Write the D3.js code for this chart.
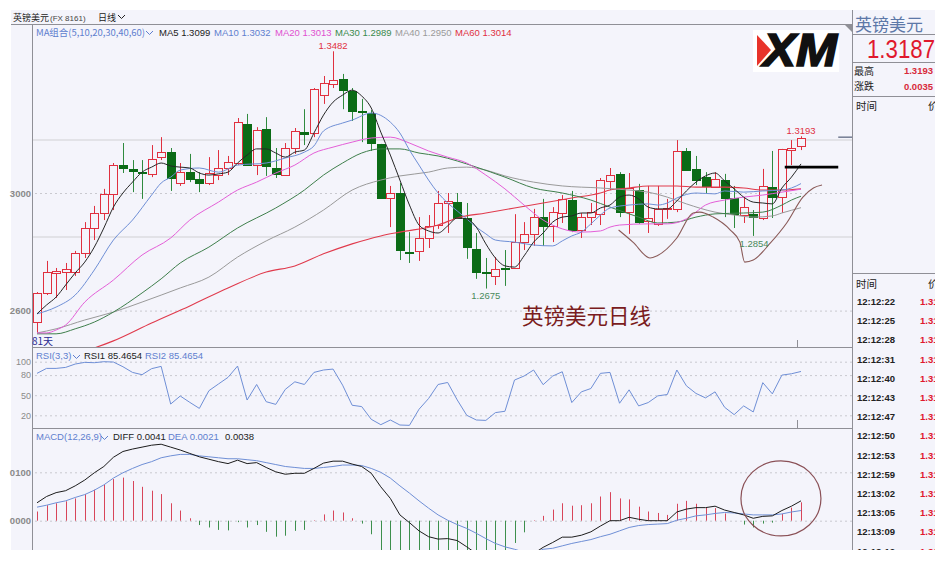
<!DOCTYPE html>
<html>
<head>
<meta charset="utf-8">
<script src="https://d3js.org/d3.v7.min.js"></script>
<style>
	html, body { margin: 0; padding: 0; background: #fff; }
	text { font-family: "Liberation Sans", Arial, "Noto Sans CJK SC", sans-serif; }
	.cjk { font-family: "Noto Sans CJK SC", "Liberation Sans", sans-serif; }
	.axis path, .axis line { display: none; }
	.axis text { fill: #8a8a8a; font-size: 9.5px; font-weight: bold; }
	.grid line { stroke: #c9c9cf; stroke-dasharray: 2 3; }
	.grid path { display: none; }
</style>
</head>
<body>
<script>
const WIDTH = 952, HEIGHT = 564;

// daily candles, one value per day (81 days)
const opens = [1.2561,1.2660,1.2728,1.2731,1.2731,1.2796,1.2881,1.2932,1.2997,1.3095,1.3082,1.3073,1.3065,1.3122,1.3139,1.3034,1.3071,1.3048,1.3034,1.3061,1.3085,1.3102,1.3235,1.3095,1.3218,1.3085,1.3061,1.3153,1.3207,1.3204,1.3333,1.3371,1.3388,1.3347,1.3279,1.3272,1.3167,1.2983,1.3000,1.2799,1.2803,1.2847,1.2891,1.2966,1.2969,1.2915,1.2810,1.2730,1.2718,1.2745,1.2745,1.2833,1.2860,1.2918,1.2888,1.2932,1.2976,1.2874,1.2918,1.2928,1.3041,1.3065,1.2935,1.3010,1.2905,1.2895,1.2946,1.2946,1.3143,1.3082,1.3054,1.3020,1.3044,1.2983,1.2925,1.2928,1.2915,1.3020,1.2986,1.3146,1.3160];
const highs = [1.2663,1.2769,1.2745,1.2762,1.2803,1.2901,1.2956,1.3014,1.3102,1.3170,1.3112,1.3112,1.3163,1.3190,1.3153,1.3102,1.3133,1.3071,1.3122,1.3146,1.3126,1.3255,1.3269,1.3224,1.3258,1.3153,1.3170,1.3221,1.3285,1.3357,1.3398,1.3482,1.3405,1.3357,1.3320,1.3282,1.3167,1.3024,1.3034,1.2867,1.2918,1.2925,1.3007,1.3000,1.3000,1.2966,1.2864,1.2779,1.2782,1.2806,1.2928,1.2901,1.2946,1.2980,1.2952,1.2993,1.3007,1.2932,1.2966,1.3051,1.3085,1.3071,1.3068,1.3031,1.3024,1.3024,1.2980,1.3180,1.3153,1.3126,1.3071,1.3071,1.3065,1.3024,1.2986,1.2942,1.3082,1.3143,1.3150,1.3180,1.3193];
const lows = [1.2524,1.2653,1.2643,1.2670,1.2718,1.2779,1.2840,1.2908,1.2942,1.3068,1.3003,1.2980,1.3054,1.3112,1.3007,1.3024,1.3037,1.3003,1.3027,1.3044,1.3061,1.3095,1.3092,1.3061,1.3058,1.3051,1.3061,1.3133,1.3163,1.3190,1.3303,1.3357,1.3285,1.3245,1.3173,1.3143,1.2983,1.2884,1.2772,1.2762,1.2769,1.2813,1.2878,1.2864,1.2915,1.2776,1.2708,1.2675,1.2687,1.2684,1.2742,1.2806,1.2820,1.2820,1.2833,1.2898,1.2867,1.2847,1.2891,1.2891,1.3010,1.2918,1.2861,1.2895,1.2864,1.2888,1.2912,1.2935,1.3078,1.3027,1.2997,1.3017,1.2918,1.2881,1.2898,1.2854,1.2908,1.2915,1.2932,1.3095,1.3146];
const closes = [1.2660,1.2731,1.2735,1.2742,1.2796,1.2881,1.2932,1.2997,1.3095,1.3085,1.3075,1.3070,1.3116,1.3139,1.3051,1.3071,1.3048,1.3034,1.3068,1.3085,1.3105,1.3241,1.3095,1.3214,1.3092,1.3065,1.3153,1.3211,1.3201,1.3354,1.3374,1.3384,1.3350,1.3279,1.3275,1.3170,1.2983,1.3000,1.2806,1.2796,1.2847,1.2888,1.2966,1.2973,1.2915,1.2816,1.2731,1.2726,1.2742,1.2742,1.2833,1.2860,1.2918,1.2888,1.2935,1.2979,1.2874,1.2918,1.2935,1.3044,1.3061,1.2935,1.3017,1.2901,1.2915,1.2946,1.2949,1.3143,1.3078,1.3044,1.3024,1.3048,1.2983,1.2928,1.2952,1.2918,1.3024,1.2986,1.3150,1.3153,1.3187];

// moving averages, day index + value
const ma5Days = d3.range(81);
const ma5 = [1.2589,1.2619,1.2646,1.2687,1.2728,1.2765,1.2816,1.2881,1.2952,1.3000,1.3037,1.3071,1.3088,1.3102,1.3092,1.3088,1.3085,1.3068,1.3061,1.3065,1.3071,1.3102,1.3129,1.3150,1.3150,1.3136,1.3122,1.3139,1.3146,1.3204,1.3265,1.3309,1.3333,1.3350,1.3330,1.3289,1.3207,1.3129,1.3044,1.2959,1.2891,1.2871,1.2864,1.2888,1.2915,1.2912,1.2884,1.2827,1.2779,1.2752,1.2748,1.2786,1.2833,1.2864,1.2901,1.2918,1.2922,1.2932,1.2932,1.2949,1.2959,1.2986,1.2993,1.2980,1.2952,1.2946,1.2946,1.2973,1.3007,1.3037,1.3058,1.3068,1.3041,1.3014,1.2986,1.2969,1.2966,1.2963,1.3017,1.3054,1.3099];
const ma10Days = [0,2,4,6,8,10,12,13,14,15,17,19,21,24,26,28,29,30,32,33,35,37,38,39,40,41,42,43,44,45,46,47,48,50,52,54,55,56,57,58,59,60,62,64,65,66,67,69,71,72,74,76,78,79,80];
const ma10 = [1.2589,1.2612,1.2653,1.2738,1.2840,1.2908,1.2993,1.3034,1.3054,1.3078,1.3085,1.3071,1.3095,1.3102,1.3119,1.3139,1.3160,1.3211,1.3238,1.3248,1.3272,1.3241,1.3204,1.3146,1.3095,1.3044,1.3000,1.2966,1.2939,1.2912,1.2884,1.2861,1.2840,1.2833,1.2823,1.2820,1.2837,1.2854,1.2867,1.2895,1.2925,1.2949,1.2959,1.2963,1.2959,1.2966,1.2983,1.3000,1.2997,1.3007,1.3003,1.3007,1.3010,1.3017,1.3032];
const ma20Days = [0,1,2,3,5,8,11,14,16,19,21,23,25,27,29,31,33,35,37,39,41,43,45,47,49,51,53,55,57,59,60,61,64,66,68,69,70,72,74,76,78,80];
const ma20 = [1.2524,1.2524,1.2534,1.2551,1.2629,1.2704,1.2789,1.2847,1.2908,1.2969,1.3010,1.3037,1.3068,1.3095,1.3136,1.3156,1.3173,1.3187,1.3190,1.3170,1.3143,1.3122,1.3102,1.3061,1.3014,1.2959,1.2908,1.2878,1.2867,1.2871,1.2884,1.2891,1.2895,1.2895,1.2912,1.2935,1.2959,1.2976,1.2986,1.2993,1.3003,1.3013];
const ma30Days = [0,2,4,6,8,11,13,15,18,21,25,28,30,32,34,36,38,40,42,44,46,49,52,55,58,60,62,63,65,67,69,71,74,76,78,79,80];
const ma30 = [1.2521,1.2521,1.2538,1.2561,1.2595,1.2660,1.2708,1.2762,1.2816,1.2881,1.2949,1.3010,1.3061,1.3102,1.3136,1.3150,1.3150,1.3136,1.3126,1.3109,1.3088,1.3054,1.3017,1.3000,1.2976,1.2952,1.2929,1.2918,1.2898,1.2901,1.2918,1.2929,1.2932,1.2935,1.2959,1.2976,1.2989];
const ma40Days = [0,2,5,8,11,15,18,21,24,27,30,33,36,38,41,43,45,47,49,52,55,59,62,64,66,68,71,73,75,77,78,80];
const ma40 = [1.2524,1.2538,1.2568,1.2595,1.2629,1.2677,1.2714,1.2782,1.2837,1.2884,1.2942,1.3010,1.3044,1.3058,1.3071,1.3085,1.3088,1.3078,1.3058,1.3037,1.3024,1.3017,1.3010,1.3003,1.2986,1.2963,1.2935,1.2925,1.2918,1.2922,1.2932,1.2950];
const ma60Days = [5,6,8,12,16,20,24,27,30,33,36,38,42,44,47,50,53,56,59,60,62,64,67,69,72,74,76,78,80];
const ma60 = [1.2463,1.2473,1.2497,1.2558,1.2616,1.2677,1.2731,1.2752,1.2793,1.2827,1.2854,1.2867,1.2891,1.2915,1.2932,1.2949,1.2966,1.2983,1.3000,1.3010,1.3017,1.3024,1.3024,1.3020,1.3020,1.3017,1.3010,1.3010,1.3014];

const rsi = [82.6,90,90,91.5,96.5,99,98.5,100,99.5,92.5,84,80.6,89.6,93,36.8,48.8,39.3,30.3,56.7,66.7,76.6,93.5,42.8,66,40.3,36.3,58.7,70,66,84,87.6,89,65,35,33,14,6,13,5.5,5,29,45,66,69,43,20,13,12.4,24,26,72.6,78.6,87.6,65.7,78.6,85,39,55,60,82.6,84,38,58,34,39,49,51,87.6,64,52.7,46,55,32,21,34,25,68.7,52,80,82,85.4];

// macd in 0.0001 units
const diff = [37,50,58,62,72,84,99,112,131,143,148,152,156,158,152,146,139,132,127,122,118,125,118,120,110,101,96,98,98,108,119,123,123,117,112,98,70,46,12,-4,-21,-33,-38,-37,-41,-54,-68,-81,-90,-90,-85,-75,-68,-55,-45,-34,-34,-30,-23,-11,0,0,7,3,0,0,0,18,24,27,27,30,22,17,12,5,9,10,21,30,41];
const dea = [28,32,37,41,48,54,63,74,88,99,108,116,122,130,134,137,137,134,132,130,128,128,126,124,120,116,112,110,108,108,110,112,115,115,114,108,100,88,72,57,41,26,12,1,-8,-16,-26,-37,-47,-54,-59,-65,-68,-59,-57,-52,-47,-43,-39,-33,-28,-21,-14,-10,-8,-7,-6,1,5,10,12,15,17,16,14,12,12,12,14,18,21];
const macdBars = [19,32,36,40,46,55,64,74,86,89,82,70,62,55,36,21,5,-9,-14,-19,-20,-3,-14,-9,-23,-33,-31,-21,-19,1,13,21,17,5,-6,-28,-62,-84,-120,-122,-124,-118,-100,-76,-66,-76,-84,-88,-86,-72,-46,-24,1,10,23,36,31,32,36,50,59,46,44,29,19,16,12,35,41,35,28,26,15,0,-8,-14,-6,-4,14,27,38];

// hand drawn things on top of the chart
const brownDays = [60.9,62.4,64.2,64.9,67,68.7,69.4,70.8,72.6,73.6,74.1,75,76.8,78.5,80.2,81.3,82.2];
const brownVals = [1.2874,1.2833,1.2779,1.2786,1.2847,1.2932,1.2935,1.2918,1.2874,1.2833,1.2765,1.2772,1.2830,1.2898,1.2986,1.3017,1.3027];

const priceTicks = [1.3, 1.26];
const priceBands = [1.318, 1.285];
const rsiTicks = [100, 80, 50, 20];
const macdTicks = [100, 0];
const timeLabels = ["12:12:22","12:12:25","12:12:28","12:12:31","12:12:40","12:12:43","12:12:47","12:12:50","12:12:53","12:12:59","12:13:02","12:13:05","12:13:09","12:13:12"];

const BG = "#f4f4fb", RED = "#e0303f", GREEN = "#0b6b16", FRAME = "#8f8f96";
const LEFT = 32, RIGHT = 852;

var svg = d3.select("body").append("svg")
	.attr("width", WIDTH)
	.attr("height", HEIGHT)
	.style("display", "block");

svg.append("rect").attr("x", 11).attr("y", 10).attr("width", 924).attr("height", 540).attr("fill", BG);

var x = d3.scaleLinear().domain([0, 80]).range([37, 801]);
var yPrice = d3.scaleLinear().domain([1.26, 1.30]).range([310.6, 193]);
var yRsi = d3.scaleLinear().domain([20, 100]).range([415.3, 361.7]);
var yMacd = d3.scaleLinear().domain([0, 100]).range([520.7, 472.3]);

function clip(id, top, bottom) {
	svg.append("clipPath").attr("id", id).append("rect")
		.attr("x", LEFT + 1).attr("y", top).attr("width", RIGHT - LEFT + 60).attr("height", bottom - top);
}
clip("mainClip", 25, 347);
clip("macdClip", 429, 550);

function gridLines(scale, ticks, format) {
	svg.append("g").attr("class", "grid").attr("transform", "translate(" + RIGHT + ",0)")
		.call(d3.axisLeft(scale).tickValues(ticks).tickSize(RIGHT - LEFT - 1).tickFormat(""));
	return svg.append("g").attr("class", "axis").attr("transform", "translate(" + (LEFT - 1) + ",0)")
		.call(d3.axisLeft(scale).tickValues(ticks).tickSize(0).tickPadding(0).tickFormat(format));
}

gridLines(yPrice, priceTicks, d => String(Math.round(d * 10000) % 10000));
gridLines(yRsi, rsiTicks, d => d).selectAll("text").style("font-size", "9px").style("font-weight", "normal");
gridLines(yMacd, macdTicks, d => d3.format("04d")(d));

// solid light levels
svg.append("g").selectAll("line").data(priceBands).join("line")
	.attr("x1", LEFT + 1).attr("x2", RIGHT)
	.attr("y1", d => yPrice(d)).attr("y2", d => yPrice(d))
	.attr("stroke", "#dcdce0").attr("stroke-width", 1.5);

// candles
var main = svg.append("g").attr("clip-path", "url(#mainClip)");
var candles = d3.range(81).map(i => ({ i: i, o: opens[i], h: highs[i], l: lows[i], c: closes[i] }));
var bodyW = 8;
var isUp = d => d.c >= d.o;
var px = d => Math.round(x(d.i)) + 0.5;

main.selectAll(".wick").data(candles).join("line")
	.attr("class", "wick")
	.attr("x1", px).attr("x2", px)
	.attr("y1", d => yPrice(d.h)).attr("y2", d => yPrice(d.l))
	.attr("stroke", d => isUp(d) ? RED : "#2f8a3e")
	.attr("stroke-width", 1);

main.selectAll(".body").data(candles).join("rect")
	.attr("class", "body")
	.attr("x", d => px(d) - bodyW / 2)
	.attr("width", bodyW)
	.attr("y", d => Math.round(yPrice(Math.max(d.o, d.c))) + 0.5)
	.attr("height", d => Math.max(1, Math.round(Math.abs(yPrice(d.o) - yPrice(d.c)))))
	.attr("fill", d => isUp(d) ? BG : GREEN)
	.attr("stroke", d => isUp(d) ? RED : GREEN)
	.attr("stroke-width", 1);

// moving averages
function maLine(days, vals, colour, width) {
	var line = d3.line().x(d => x(d[0])).y(d => yPrice(d[1])).curve(d3.curveMonotoneX);
	main.append("path").datum(d3.zip(days, vals)).attr("d", line)
		.attr("fill", "none").attr("stroke", colour).attr("stroke-width", width);
}
maLine(ma60Days, ma60, "#e03a4c", 1.1);
maLine(ma40Days, ma40, "#9a9a9a", 1);
maLine(ma30Days, ma30, "#3f7f4c", 1);
maLine(ma20Days, ma20, "#e45fd8", 1);
maLine(ma10Days, ma10, "#6f8fd6", 1);
maLine(ma5Days, ma5, "#262626", 1);

// hand drawings
maLine(brownDays, brownVals, "#8a5a58", 1.1);
main.append("line")
	.attr("x1", x(78.3)).attr("x2", x(83.9))
	.attr("y1", yPrice(1.3088)).attr("y2", yPrice(1.3088))
	.attr("stroke", "#000").attr("stroke-width", 2.6);
main.append("line")
	.attr("x1", x(83.9)).attr("x2", x(85.4))
	.attr("y1", yPrice(1.319)).attr("y2", yPrice(1.319))
	.attr("stroke", "#33405e").attr("stroke-width", 1);

// rsi
svg.append("path").datum(rsi)
	.attr("d", d3.line().x((d, i) => x(i)).y(d => yRsi(d)))
	.attr("fill", "none").attr("stroke", "#6f8fd6").attr("stroke-width", 1);

// macd
var macdG = svg.append("g").attr("clip-path", "url(#macdClip)");
macdG.selectAll("line").data(macdBars).join("line")
	.attr("x1", (d, i) => Math.round(x(i)) + 0.5).attr("x2", (d, i) => Math.round(x(i)) + 0.5)
	.attr("y1", yMacd(0)).attr("y2", d => yMacd(d))
	.attr("stroke", d => d >= 0 ? "#d8455a" : "#3d8f4d").attr("stroke-width", 1);
macdG.append("path").datum(dea)
	.attr("d", d3.line().x((d, i) => x(i)).y(d => yMacd(d)))
	.attr("fill", "none").attr("stroke", "#6f8fd6").attr("stroke-width", 1);
macdG.append("path").datum(diff)
	.attr("d", d3.line().x((d, i) => x(i)).y(d => yMacd(d)))
	.attr("fill", "none").attr("stroke", "#1c1c1c").attr("stroke-width", 1);
svg.append("ellipse")
	.attr("cx", x(77.9)).attr("cy", yMacd(46))
	.attr("rx", 40).attr("ry", 37.5)
	.attr("fill", "none").attr("stroke", "#8a5056").attr("stroke-width", 1.2);

// frame lines
function hLine(y, x1, x2, colour, w) {
	svg.append("line").attr("x1", x1).attr("x2", x2).attr("y1", y).attr("y2", y).attr("stroke", colour).attr("stroke-width", w || 1);
}
function vLine(xp, y1, y2, colour, w) {
	svg.append("line").attr("x1", xp).attr("x2", xp).attr("y1", y1).attr("y2", y2).attr("stroke", colour).attr("stroke-width", w || 1);
}
hLine(24.5, 11, RIGHT, FRAME);
hLine(347.5, LEFT, RIGHT, FRAME);
hLine(428.5, LEFT, RIGHT, FRAME);
vLine(LEFT + 0.5, 24, 550, FRAME);
vLine(RIGHT + 0.5, 10, 550, FRAME);
vLine(Math.round(x(79.6)) + 0.5, 340, 347, FRAME);
vLine(Math.round(x(79.6)) + 0.5, 420, 428, FRAME);
hLine(34.5, RIGHT, 935, FRAME);
hLine(62.5, RIGHT, 935, FRAME);
hLine(96.5, RIGHT, 935, FRAME);
hLine(273.5, RIGHT, 935, FRAME);
svg.append("path").attr("d", "M845,25H852V32Z").attr("fill", "#8f8f96");

// text helper
function label(txt, xp, yp, colour, size, opts) {
	opts = opts || {};
	return svg.append("text").text(txt)
		.attr("x", xp).attr("y", yp)
		.attr("fill", colour)
		.attr("font-size", size)
		.attr("text-anchor", opts.anchor || "start")
		.attr("font-weight", opts.bold ? "bold" : "normal")
		.attr("class", opts.cjk ? "cjk" : null);
}
function chevron(xp, yp, colour) {
	svg.append("path").attr("d", "M" + xp + "," + yp + "l3.5,3.5l3.5,-3.5").attr("fill", "none").attr("stroke", colour).attr("stroke-width", 1);
}

const BLUE = "#5f7fcf", BLACK = "#222";
const HEAD = 9.5;
label("英镑美元", 13, 21, BLACK, 9, { cjk: true });
label("(FX 8161)", 50, 21, "#444", 8).attr("font-family", "Liberation Mono");
label("日线", 98, 21, BLACK, 9, { cjk: true });
chevron(118, 15, BLACK);

label("MA组合(5,10,20,30,40,60)", 36, 36, BLUE, 9.5, { cjk: true }).attr("textLength", 109);
chevron(146, 31, BLUE);
label("MA5 1.3099", 159, 36, BLACK, HEAD);
label("MA10 1.3032", 214, 36, BLUE, HEAD);
label("MA20 1.3013", 275, 36, "#e050d0", HEAD);
label("MA30 1.2989", 335, 36, "#3a8a4c", HEAD);
label("MA40 1.2950", 395, 36, "#9a9a9a", HEAD);
label("MA60 1.3014", 455, 36, RED, HEAD);

label("1.3482", x(31), 49, RED, HEAD, { anchor: "middle" });
label("1.3193", x(80), 134, RED, HEAD, { anchor: "middle" });
label("1.2854", 754, 247, "#4a8a5a", HEAD, { anchor: "middle" });
label("1.2675", x(47), 299, "#4a8a5a", HEAD, { anchor: "middle" });
label("英镑美元日线", 522, 324, "#7a1c20", 21.5, { cjk: true });
label("81天", 32, 345, "#2a2a90", 10, { cjk: true });

label("RSI(3,3)", 36, 359, BLUE, HEAD);
chevron(73, 355, BLUE);
label("RSI1 85.4654", 84, 359, BLACK, HEAD);
label("RSI2 85.4654", 145, 359, BLUE, HEAD);

label("MACD(12,26,9)", 36, 440, BLUE, HEAD);
chevron(101, 436, BLUE);
label("DIFF 0.0041", 113, 440, BLACK, HEAD);
label("DEA 0.0021", 168, 440, BLUE, HEAD);
label("0.0038", 225, 440, BLACK, HEAD);

// logo
svg.append("rect").attr("x", 753).attr("y", 30).attr("width", 86).attr("height", 42).attr("fill", "#fff");
svg.append("path").attr("d", "M757,35L771,50L757,66Z").attr("fill", "#e8332a");
label("XM", 763, 66, "#111", 46, { bold: true })
	.attr("font-style", "italic")
	.attr("stroke", "#111").attr("stroke-width", 1.6)
	.attr("textLength", 74).attr("lengthAdjust", "spacingAndGlyphs");

// right panel, clipped at its right edge
svg.append("clipPath").attr("id", "sideClip").append("rect").attr("x", RIGHT + 1).attr("y", 10).attr("width", 82).attr("height", 540);
var sideStart = svg.selectAll("text").size();
label("英镑美元", 855, 31, "#5d78a8", 17, { cjk: true });
label("1.3187", 867, 58, "#e0182d", 25).attr("textLength", 68).attr("lengthAdjust", "spacingAndGlyphs");
label("最高", 854, 75, BLACK, 10, { cjk: true });
label("1.3193", 933, 74, "#d82a3a", 9.5, { anchor: "end", bold: true });
label("涨跌", 854, 90, BLACK, 10, { cjk: true });
label("0.0035", 933, 90, "#d82a3a", 9.5, { anchor: "end", bold: true });
label("时间", 856, 110, BLACK, 10.5, { cjk: true });
label("价", 928, 110, BLACK, 10.5, { cjk: true });
label("时间", 856, 288, BLACK, 10.5, { cjk: true });
label("价", 928, 288, BLACK, 10.5, { cjk: true });
timeLabels.forEach(function(t, i) {
	var yp = 305 + i * 19.2;
	label(t, 857, yp, BLACK, 9.5, { bold: true });
	label("1.3187", 920, yp, "#e0182d", 9.5, { bold: true });
});
svg.selectAll("text").filter((d, i) => i >= sideStart).attr("clip-path", "url(#sideClip)");
</script>
</body>
</html>
